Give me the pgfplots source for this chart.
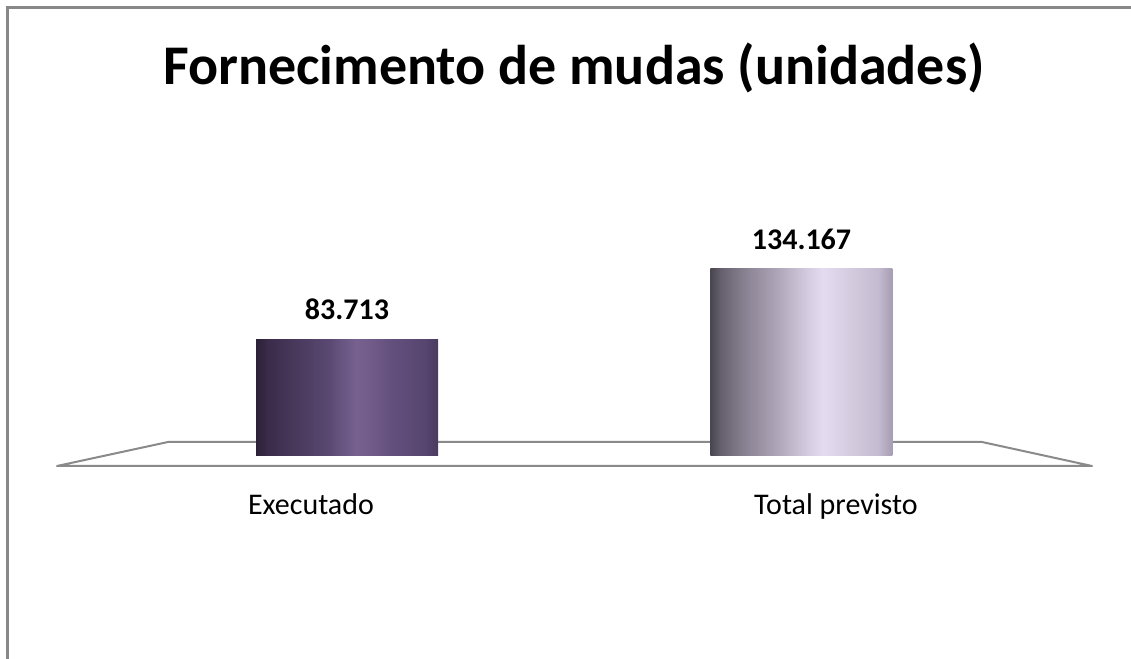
\documentclass[border=0pt]{standalone}
\usepackage{pgfplots}
\pgfplotsset{compat=1.18}
\usepackage{fontspec}
\setmainfont{Carlito}

\definecolor{framegray}{HTML}{888888}
\definecolor{floorgray}{HTML}{8A8A8A}
% purple cylinder
\definecolor{cA0}{HTML}{2B2136}
\definecolor{cA1}{HTML}{3A2B4A}
\definecolor{cA2}{HTML}{473759}
\definecolor{cA3}{HTML}{5A4872}
\definecolor{cA4}{HTML}{77628F}
\definecolor{cA5}{HTML}{725D8A}
\definecolor{cA6}{HTML}{634F7C}
\definecolor{cA7}{HTML}{574670}
\definecolor{cA8}{HTML}{4A3A60}
% lavender cylinder
\definecolor{cB0}{HTML}{4A4650}
\definecolor{cB1}{HTML}{67616F}
\definecolor{cB2}{HTML}{8B8494}
\definecolor{cB3}{HTML}{B1A9BB}
\definecolor{cB4}{HTML}{D8CFE4}
\definecolor{cB5}{HTML}{E3DBF0}
\definecolor{cB6}{HTML}{D4CADE}
\definecolor{cB7}{HTML}{C5BBD1}
\definecolor{cB8}{HTML}{A59DB0}

\pgfdeclarehorizontalshading{cylA}{100bp}{color(0bp)=(cA0); color(25bp)=(cA0);
  color(28bp)=(cA1); color(35bp)=(cA2); color(45bp)=(cA3); color(52.5bp)=(cA4);
  color(56bp)=(cA5); color(62.5bp)=(cA6); color(71bp)=(cA7); color(75bp)=(cA8);
  color(100bp)=(cA8)}
\pgfdeclarehorizontalshading{cylB}{100bp}{color(0bp)=(cB0); color(25bp)=(cB0);
  color(28bp)=(cB1); color(35bp)=(cB2); color(44bp)=(cB3); color(52.5bp)=(cB4);
  color(56bp)=(cB5); color(64bp)=(cB6); color(71bp)=(cB7); color(75bp)=(cB8);
  color(100bp)=(cB8)}

\begin{document}
\begin{tikzpicture}
  \useasboundingbox (0,0) rectangle (565.5pt,329.5pt);
  % frame and floor, in pixel units of the reference
  \begin{scope}[x=0.5pt, y=-0.5pt, yshift=329.5pt]
    \draw[line width=1.5pt, framegray] (7.5,659) -- (7.5,7.5) -- (1131,7.5);
    \draw[line width=1pt, floorgray, line join=round]
      (57,466) -- (168,442) -- (982,442) -- (1092,466) -- cycle;
  \end{scope}
  \begin{axis}[
      at={(0,0)}, anchor=south west,
      scale only axis,
      width=565.5pt, height=329.5pt,
      xmin=-0.7635, xmax=1.725,
      ymin=-145520, ymax=326880,
      enlargelimits=false,
      axis line style={draw=none},
      tick style={draw=none},
      ytick=\empty,
      xtick={-0.0792,1.0759},
      xticklabels={Executado, Total previsto},
      xticklabel style={anchor=base, inner sep=0pt, yshift=72pt,
        font=\fontsize{15}{18}\selectfont},
      title={Fornecimento de mudas (unidades)},
      every axis title shift=0pt,
      title style={at={(0.5075,0.8725)}, anchor=base, yshift=0pt,
        font=\bfseries\fontsize{28}{33}\selectfont},
      nodes near coords,
      point meta=explicit symbolic,
      nodes near coords style={anchor=south, inner sep=0pt, yshift=9.5pt,
        font=\bfseries\fontsize{15}{18}\selectfont, text=black},
    ]
    \addplot[ybar, bar width=91pt, bar shift=0pt, draw=none, shading=cylA]
      coordinates {(0,83713) [83.713]};
    \addplot[ybar, bar width=91pt, bar shift=0pt, draw=none, shading=cylB]
      coordinates {(1,134167) [134.167]};
  \end{axis}
\end{tikzpicture}
\end{document}
